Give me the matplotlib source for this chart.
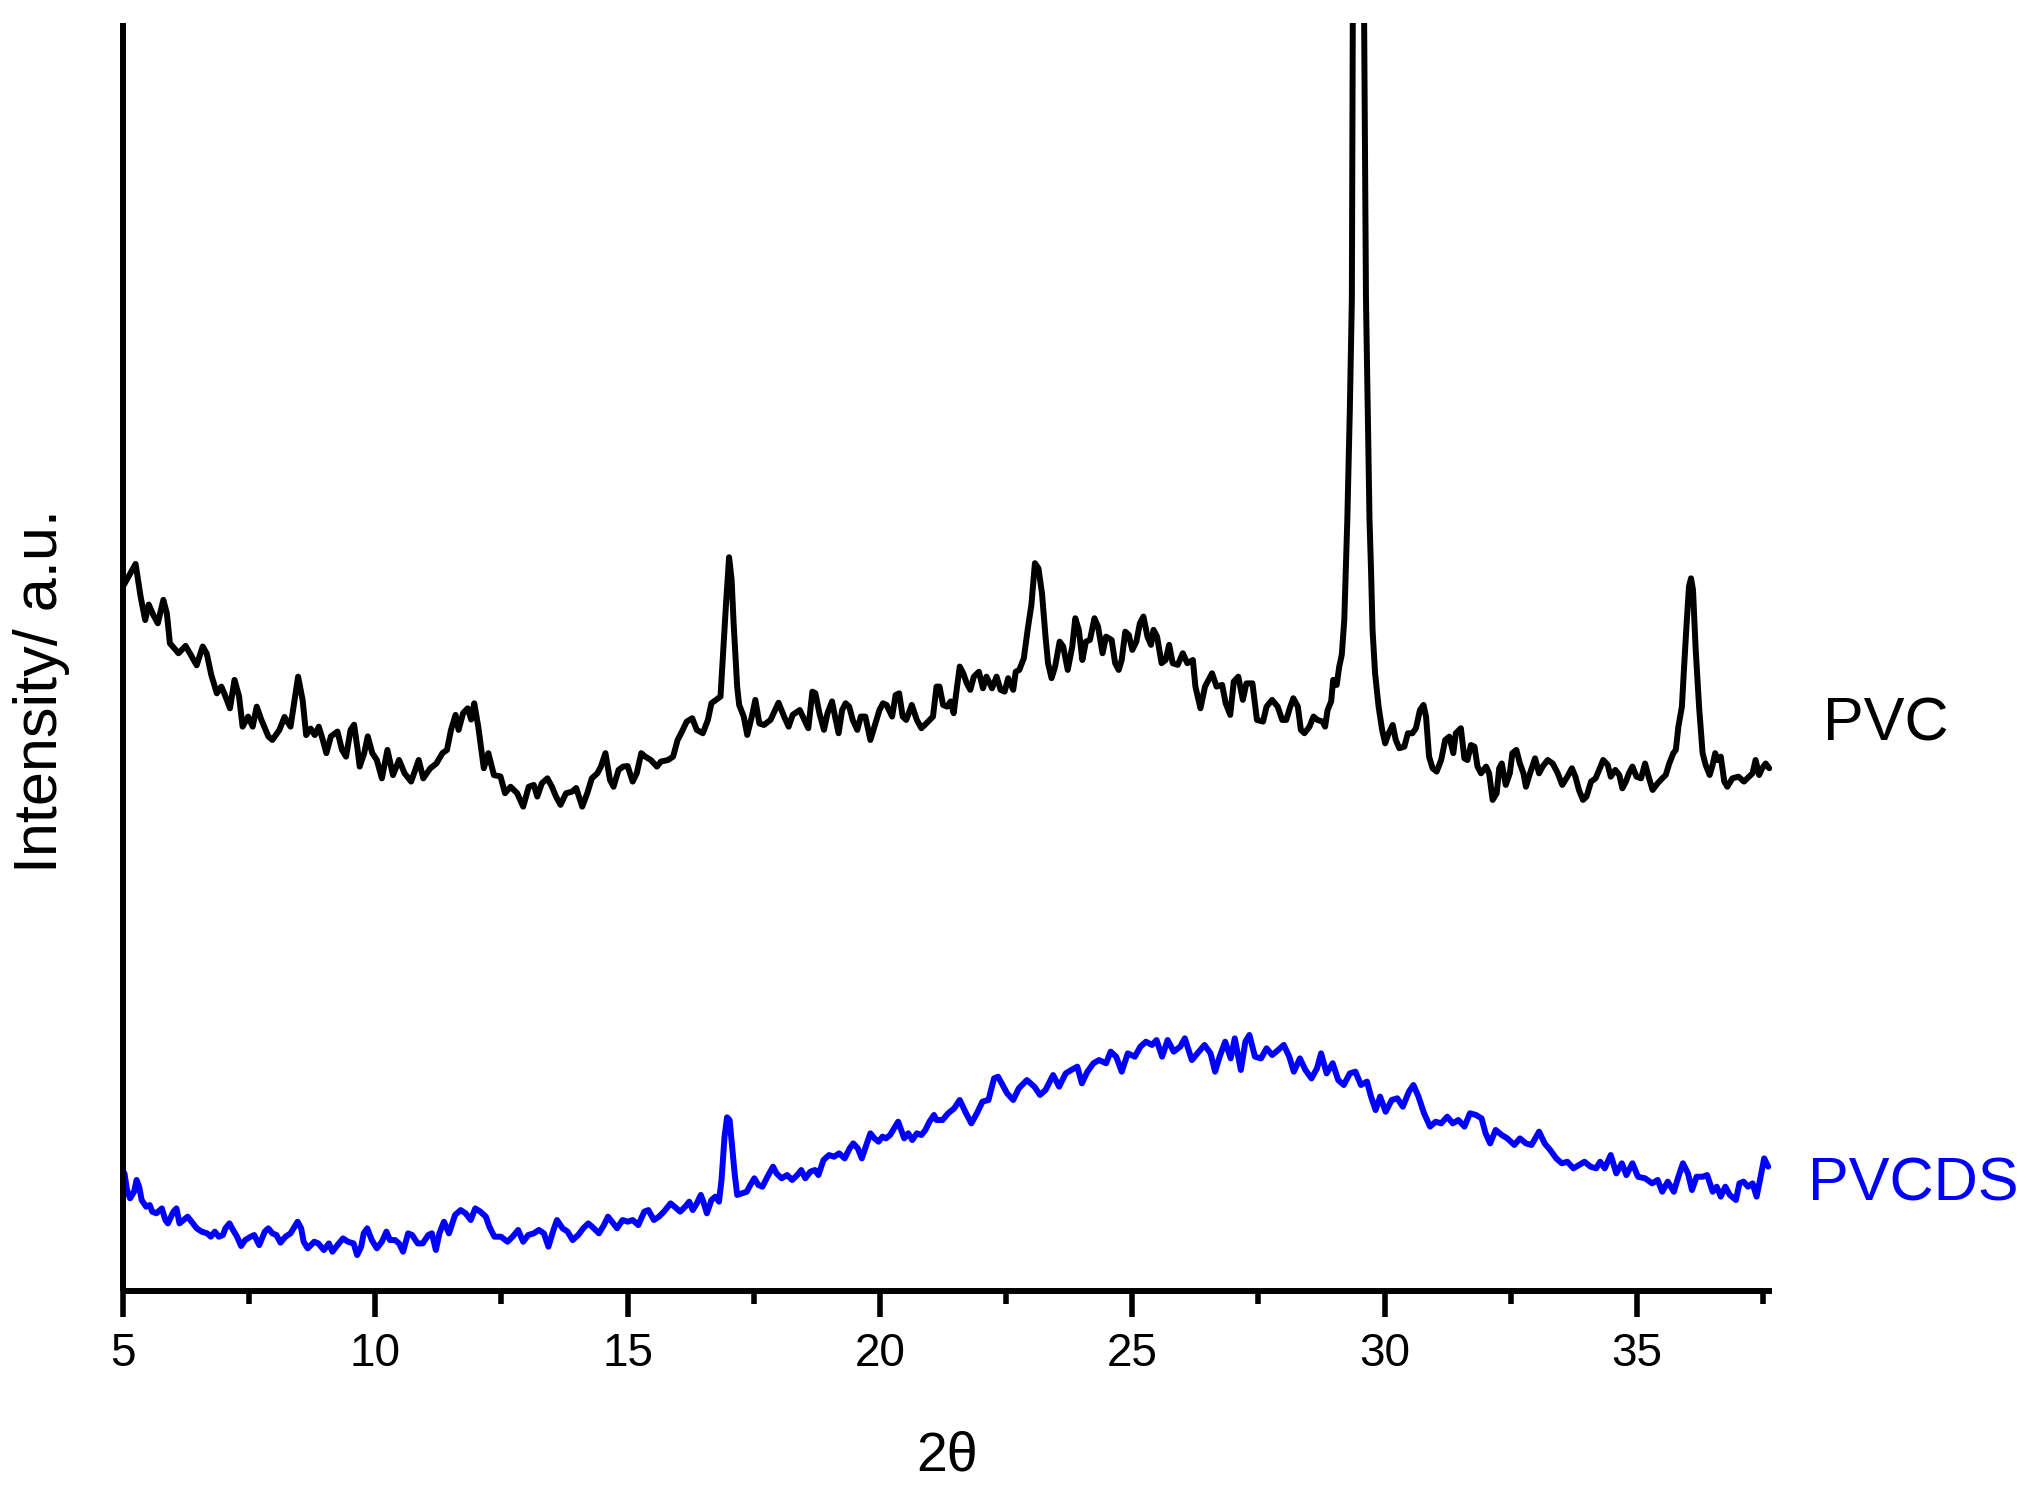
import matplotlib
matplotlib.use("Agg")
import matplotlib.pyplot as plt
from matplotlib.ticker import MultipleLocator

plt.rcParams['font.family'] = ['Liberation Sans', 'DejaVu Sans']

# ---------------- data (arbitrary units) ----------------
pvc_2theta = [
    5.0, 5.13, 5.25, 5.35, 5.44, 5.51, 5.6, 5.69, 5.8, 5.87, 5.93, 6.02, 6.1, 6.24, 6.33, 6.46,
    6.58, 6.66, 6.75, 6.86, 6.95, 7.02, 7.12, 7.21, 7.3, 7.37, 7.48, 7.57, 7.65, 7.74, 7.88, 7.96,
    8.1, 8.2, 8.32, 8.41, 8.47, 8.56, 8.63, 8.72, 8.8, 8.88, 8.96, 9.03, 9.12, 9.25, 9.34, 9.42,
    9.51, 9.58, 9.65, 9.69, 9.78, 9.85, 9.94, 10.03, 10.13, 10.24, 10.35, 10.47, 10.58, 10.71,
    10.86, 10.95, 11.09, 11.21, 11.33, 11.42, 11.5, 11.59, 11.65, 11.74, 11.83, 11.9, 11.96, 12.04,
    12.15, 12.24, 12.35, 12.48, 12.57, 12.68, 12.81, 12.93, 13.04, 13.14, 13.21, 13.3, 13.41, 13.5,
    13.58, 13.67, 13.78, 13.9, 13.98, 14.1, 14.2, 14.29, 14.4, 14.47, 14.56, 14.65, 14.72, 14.82,
    14.91, 15.0, 15.1, 15.18, 15.27, 15.35, 15.46, 15.58, 15.66, 15.8, 15.9, 15.99, 16.06, 16.17,
    16.28, 16.37, 16.49, 16.59, 16.66, 16.75, 16.84, 16.9, 16.95, 17.01, 17.06, 17.1, 17.17, 17.21,
    17.3, 17.37, 17.46, 17.53, 17.61, 17.7, 17.83, 17.99, 18.1, 18.19, 18.27, 18.41,
    18.58, 18.66, 18.72, 18.8, 18.89, 18.96, 19.05, 19.11, 19.18, 19.25, 19.32, 19.39, 19.46, 19.55,
    19.62, 19.71, 19.81, 19.91, 19.99, 20.06, 20.13, 20.24, 20.31, 20.38, 20.45, 20.52, 20.63, 20.73,
    20.82, 20.92, 21.05, 21.12, 21.18, 21.25, 21.33, 21.4, 21.46, 21.51, 21.58, 21.65, 21.72, 21.79,
    21.86, 21.96, 22.04, 22.11, 22.22, 22.31, 22.39, 22.47, 22.54, 22.64, 22.69, 22.76, 22.85, 22.93,
    23.0, 23.07, 23.14, 23.21, 23.28, 23.33, 23.4, 23.47, 23.56, 23.63, 23.72, 23.81, 23.87, 23.94,
    24.01, 24.08, 24.16, 24.25, 24.32, 24.41, 24.48, 24.59, 24.66, 24.73, 24.79, 24.86, 24.93, 25.0,
    25.08, 25.15, 25.22, 25.3, 25.37, 25.42, 25.49, 25.58, 25.66, 25.73, 25.8, 25.9, 26.0, 26.09,
    26.2, 26.25, 26.35, 26.44, 26.58, 26.67, 26.78, 26.85, 26.94, 27.01, 27.1, 27.19, 27.26, 27.38,
    27.47, 27.59, 27.66, 27.77, 27.88, 27.97, 28.05, 28.12, 28.19, 28.28, 28.34,
    28.41, 28.51, 28.59, 28.67, 28.77, 28.82, 28.87, 28.94, 28.98, 29.05, 29.1, 29.15, 29.2, 29.23,
    29.26, 29.31, 29.35, 29.37, 29.42, 29.48, 29.54, 29.59, 29.63, 29.7, 29.73, 29.76, 29.81, 29.88, 29.95, 30.01,
    30.08, 30.16, 30.22, 30.29, 30.39, 30.46, 30.55, 30.62, 30.7, 30.77, 30.82, 30.88, 30.95, 31.03,
    31.12, 31.2, 31.28, 31.36, 31.41, 31.51, 31.58, 31.64, 31.71, 31.78, 31.84, 31.91, 32.01, 32.07,
    32.14, 32.22, 32.27, 32.32, 32.4, 32.48, 32.53, 32.61, 32.68, 32.75, 32.8, 32.88, 32.98, 33.06,
    33.13, 33.23, 33.33, 33.43, 33.52, 33.62, 33.71, 33.78, 33.85, 33.93, 34.0, 34.09, 34.18, 34.25,
    34.33, 34.42, 34.48, 34.57, 34.65, 34.71, 34.78, 34.84, 34.91, 34.99, 35.08, 35.16, 35.23, 35.31,
    35.41, 35.5, 35.57, 35.64, 35.72, 35.77, 35.82, 35.89, 35.93, 35.98, 36.03, 36.07, 36.11, 36.16,
    36.23, 36.3, 36.36, 36.44, 36.49, 36.55, 36.59, 36.66, 36.73, 36.79, 36.89, 37.01, 37.12, 37.22,
    37.29, 37.35, 37.42, 37.48, 37.55, 37.62,
]
pvc_intensity = [
    543, 552, 560.4, 535, 517, 529, 521, 514.5, 532.6, 522, 499, 495, 491.3, 497, 491, 482,
    496.5, 491, 474.5, 460.3, 465.5, 459, 448.7, 470.7, 458, 434.5, 442.3, 434.5, 450, 440, 427, 424.2,
    432, 442, 434.5, 458, 473.2, 455, 428, 433, 428, 434.5, 424.2, 414, 427, 430.7, 416.5, 411.3,
    432, 436, 416.5, 403.6, 414, 427, 414, 408.7, 394.5, 416.5, 397, 408.7, 398.4, 392,
    408.7, 394.5, 402.3, 406, 414, 416.5, 432, 443.6, 432, 445, 448.7, 440, 452.6, 434.5,
    402.3, 414, 397, 396, 383, 388, 383, 372.6, 388, 389.4, 380.4, 390.7, 394.5, 388,
    380.4, 374, 383, 384.2, 387, 372.6, 383, 394.5, 398.4, 403.6, 414, 393.3, 388, 401,
    403.6, 404, 392, 398.4, 414, 411.3, 408.7, 403.6, 407.5, 408.7, 411.3, 424.2, 429.4, 438.4,
    441, 432, 429.4, 439.7, 452.6, 455.2, 457.8, 496.5, 530, 565.6, 548, 514.5, 465.5, 451.3,
    442.3, 428.1, 442.3, 455.2, 437, 435.8, 439.7, 453, 442.3, 434.5, 443.6, 447.4,
    433.3, 461.6, 460.3, 444.9, 432, 444.9, 454, 442.3, 429.4, 447.4, 452.6, 450, 439.7, 432,
    442.3, 442.3, 424.2, 437.1, 447.4, 452.6, 451.3, 442.3, 459, 460.3, 442.3, 439.7, 451.3, 439.7,
    433.3, 437.1, 442.3, 465.5, 465.5, 451.3, 450, 454, 444.9, 460.3, 481, 475.8, 468, 463,
    473.2, 477, 464.2, 473.2, 464.2, 473.2, 463, 461.6, 472, 463, 477, 478.4, 487.4, 510.6,
    528.7, 561, 557, 537.7, 504.2, 483.6, 472, 481, 500.3, 496.5, 478.4, 496.5, 518.4, 509.4,
    486.1, 500.3, 501.6, 518.4, 512, 491.3, 504.2, 501.6, 483.6, 478.4, 486.1, 508, 505.5, 493.9,
    500.3, 514.5, 519.7, 504.2, 497.8, 509.4, 504.2, 483.6, 486.1, 497.8, 483.6, 482.3, 491.3, 483.6,
    486.1, 465.5, 448.7, 465.5, 475.8, 465.5, 466.8, 452.6, 443.6, 469.4, 473.2, 455.2, 468, 468,
    439.7, 438.4, 450, 455.2, 450, 439.7, 439.7, 448.7, 456.5, 450, 432,
    429.4, 434.5, 442.3, 439.7, 438.4, 434.5, 447.4, 454, 470.7, 466.8, 481, 490, 517, 555.8,
    594.5, 680, 765, 1000, 1500, 1800, 1500, 1000, 765, 594.5, 555.8, 509.4, 475.8, 450, 432, 421.6,
    429.4, 435.8, 424.2, 417.8, 419, 429.4, 429.4, 433.3, 447.4, 451.3, 442.3, 411.3, 402.3, 399.7,
    408.7, 424.2, 426.8, 414, 429.4, 433.3, 410, 408.7, 420.3, 419, 403.6, 398.4, 403.6, 398.4,
    377.8, 383, 402.3, 406, 389.4, 398.4, 414, 416.5, 406, 398.4, 388, 398.4, 410, 398.4,
    403.6, 408.7, 406, 398.4, 389.4, 395.8, 402.3, 395.8, 385.5, 377.8, 380.4, 392, 394.5, 401,
    408.7, 404.9, 395.8, 401, 397.1, 386.8, 392, 398.4, 403.6, 395.8, 394.5, 406, 395.8, 385.5,
    390.7, 394.5, 397.1, 406, 414, 416.5, 434.5, 450, 478.4, 512, 542.9, 549.3, 540.3, 496.5,
    450, 414, 404.9, 397.1, 403.6, 414, 408.7, 411.3, 392, 388, 394.5, 395.8, 392, 395.8,
    398.4, 408.7, 397.1, 402.3, 406, 402.3,
]

pvcds_2theta = [
    5.03, 5.08, 5.14, 5.22, 5.27, 5.32, 5.37, 5.46, 5.53, 5.58, 5.66, 5.77, 5.84, 5.89, 6.0, 6.06,
    6.12, 6.2, 6.28, 6.36, 6.46, 6.56, 6.67, 6.74, 6.82, 6.9, 6.98, 7.03, 7.11, 7.18, 7.26, 7.34,
    7.42, 7.53, 7.6, 7.7, 7.81, 7.88, 7.96, 8.04, 8.12, 8.22, 8.32, 8.4, 8.46, 8.53, 8.58, 8.66,
    8.79, 8.87, 8.98, 9.08, 9.15, 9.25, 9.36, 9.46, 9.57, 9.64, 9.72, 9.77, 9.84, 9.93, 10.03, 10.13,
    10.22, 10.29, 10.39, 10.47, 10.55, 10.65, 10.73, 10.84, 10.94, 11.05, 11.12, 11.2, 11.27, 11.36,
    11.46, 11.58, 11.69, 11.79, 11.89, 11.98, 12.08, 12.19, 12.26, 12.36, 12.49, 12.62, 12.72, 12.83,
    12.93, 13.03, 13.14, 13.24, 13.34, 13.43, 13.53, 13.6, 13.71, 13.81, 13.91, 14.02, 14.12, 14.22,
    14.33, 14.43, 14.53, 14.61, 14.69, 14.79, 14.9, 15.0, 15.1, 15.21, 15.33, 15.41, 15.52, 15.62,
    15.72, 15.85, 15.93, 16.04, 16.14, 16.22, 16.29, 16.37, 16.45, 16.5, 16.57, 16.66, 16.74, 16.81,
    16.86, 16.92, 16.97, 17.02, 17.07, 17.12, 17.17, 17.26, 17.36, 17.43, 17.51, 17.59, 17.67, 17.77,
    17.88, 17.95, 18.05, 18.16, 18.26, 18.36, 18.44, 18.52, 18.62, 18.71, 18.78, 18.88, 18.99, 19.09,
    19.19, 19.3, 19.4, 19.47, 19.56, 19.64, 19.74, 19.81, 19.89, 19.97, 20.05, 20.12, 20.2, 20.28,
    20.36, 20.48, 20.56, 20.64, 20.73, 20.82, 20.9, 20.98, 21.07, 21.12, 21.24, 21.35, 21.47, 21.58,
    21.69, 21.81, 21.92, 22.03, 22.15, 22.26, 22.34, 22.43, 22.52, 22.64, 22.75, 22.91, 23.06, 23.17,
    23.28, 23.43, 23.55, 23.68, 23.79, 23.91, 24.0, 24.11, 24.23, 24.34, 24.48, 24.57, 24.68, 24.79,
    24.91, 25.05, 25.16, 25.27, 25.39, 25.48, 25.59, 25.7, 25.82, 25.95, 26.04, 26.18, 26.29, 26.43,
    26.55, 26.64, 26.73, 26.84, 26.95, 27.03, 27.15, 27.24, 27.32, 27.43, 27.55, 27.66, 27.77, 27.89,
    28.0, 28.11, 28.2, 28.32, 28.43, 28.55, 28.66, 28.74, 28.85, 28.97, 29.08, 29.19, 29.31, 29.42,
    29.53, 29.65, 29.73, 29.82, 29.91, 30.02, 30.14, 30.25, 30.36, 30.48, 30.57, 30.67, 30.78, 30.9,
    31.01, 31.12, 31.24, 31.35, 31.46, 31.58, 31.69, 31.81, 31.92, 32.0, 32.09, 32.2, 32.32, 32.43,
    32.57, 32.68, 32.8, 32.91, 33.06, 33.17, 33.28, 33.4, 33.51, 33.62, 33.74, 33.85, 33.96, 34.08,
    34.19, 34.27, 34.36, 34.48, 34.59, 34.7, 34.79, 34.91, 35.02, 35.16, 35.3, 35.41, 35.5, 35.61,
    35.73, 35.82, 35.91, 36.01, 36.09, 36.18, 36.3, 36.39, 36.5, 36.58, 36.66, 36.75, 36.84, 36.96,
    37.03, 37.11, 37.2, 37.29, 37.37, 37.45, 37.52, 37.6,
]
pvcds_intensity = [
    88.8, 76, 69.5, 74.6, 83.7, 78.5, 68.2, 63, 64.3, 59.2, 57.9, 61.7, 52.7, 50.1, 59.2, 61.7,
    50.1, 52.7, 55.3, 51.4, 46.3, 43.7, 42.4, 39.8, 43.7, 39.8, 41.1, 46.3, 50.1, 45, 39.8, 32.6,
    37.2, 39.8, 41.1, 33.3, 43.7, 46.3, 42.4, 41.1, 35.2, 39.8, 42.4, 47.5, 51.4, 46.3, 35.9, 30.8,
    35.9, 34.6, 29.5, 34.6, 28.2, 33.3, 38.5, 35.9, 34.6, 25.6, 32.1, 42.4, 46.3, 37.2, 30.8, 35.9,
    43.7, 37.2, 37.2, 34.6, 28.2, 42.4, 41.1, 34.6, 34.6, 41.1, 42.4, 29.5, 42.4, 51.4,
    42.4, 56.6, 60.4, 57.9, 52.7, 61.7, 59.2, 55.3, 47.5, 39.8, 39.8, 35.9, 39.8, 45,
    35.9, 41.1, 42.4, 45, 42.4, 32.1, 45, 52.7, 46.3, 43.7, 37.2, 41.1, 46.3, 50.1,
    46.3, 42.4, 48.8, 55.3, 51.4, 46.3, 52.7, 51.4, 52.7, 48.8, 59.2, 60.4, 52.7, 55.3,
    59.2, 65.6, 63, 59.2, 63, 66.9, 60.4, 65.6, 72.1, 66.9, 57.9, 68.2, 70.8, 66.9,
    83.7, 117.2, 132.2, 130.1, 109.5, 88.8, 72.1, 73.3, 74.6, 79.8, 85, 79.8, 78.5, 86.2,
    94, 88.8, 85, 87.5, 83.7, 87.5, 91.4, 85, 90.1, 91.4, 87.5, 99.1, 103, 101.7,
    104.3, 100.4, 108.2, 112, 108.2, 100.4, 112, 119.8, 115.9, 113.3, 117.2, 115.9, 118.5, 123.6,
    128.8, 115.9, 119.8, 114.6, 119.8, 118.5, 122.4, 128.8, 134, 130.1, 130.1, 135.3, 139.1, 145.6,
    136.5, 127.5, 135.3, 144.3, 145.6, 162.3, 163.6, 157.2, 150.7, 145.6, 154.6, 161, 155.9, 149.5,
    153.3, 164.9, 155.9, 166.2, 168.8, 171.4, 158.5, 167.5, 174, 176.5, 174, 183, 179.1, 167.5,
    181.7, 179.1, 186.9, 190.7, 188.2, 192, 179.1, 192, 183, 186.9, 193.3, 176.5, 181.7, 188.2,
    181.7, 167.5, 179.1, 190.7, 177.8, 193.3, 168.8, 190.7, 195.9, 179.1, 177.8, 185.6, 180.4, 184.3,
    188.2, 179.1, 167.5, 177.8, 168.8, 162.3, 170.1, 181.7, 166.2, 174, 161, 157.2, 166.2, 167.5,
    157.2, 159.8, 148.2, 137.8, 148.2, 136.5, 145.6, 146.9, 140.4, 152, 157.2, 148.2, 135.3, 125,
    128.8, 127.5, 132.7, 127.5, 130.1, 125, 135.3, 134, 131.4, 119.8, 112, 122.4, 118.5, 115.9,
    110.8, 115.9, 112, 110.8, 121.1, 112, 106.9, 100.4, 96.6, 97.8, 92.7, 95.3, 97.8, 94,
    92.7, 97.8, 92.7, 103, 88.8, 96.6, 87.5, 96.6, 86.2, 85, 81.1, 83.7, 74.6, 82.4,
    74.6, 86.2, 96.6, 88.8, 75.9, 86.2, 86.2, 87.5, 74.6, 78.5, 70.8, 78.5, 72.1, 68.2,
    81.1, 82.4, 78.5, 81.1, 70.8, 86.2, 100.4, 94,
]

x_major_ticks = [5, 10, 15, 20, 25, 30, 35]
x_label = "2\u03b8"
y_label = "Intensity/ a.u."
series_labels = ["PVC", "PVCDS"]

# ---------------- figure ----------------
fig = plt.figure(figsize=(20.26, 14.87), dpi=100)
ax = fig.add_axes([0.0607, 0.132, 0.8138, 0.8525])

line_kw = dict(lw=4.3, solid_joinstyle="round", solid_capstyle="round")
ax.plot(pvc_2theta, pvc_intensity, color="black", **line_kw)
ax.plot(pvcds_2theta, pvcds_intensity, color="#0000ff", **line_kw)

ax.set_xlim(5, 37.67)
ax.set_ylim(-2, 979)
ax.set_xticks(x_major_ticks)
ax.xaxis.set_minor_locator(MultipleLocator(2.5))
ax.set_yticks([])

for side in ["top", "right"]:
    ax.spines[side].set_visible(False)
for side in ["left", "bottom"]:
    ax.spines[side].set_linewidth(4.3)
    ax.spines[side].set_capstyle("butt")

ax.tick_params(axis="x", which="major", direction="out", length=19, width=4.0,
               labelsize=33, pad=11)
ax.tick_params(axis="x", which="minor", direction="out", length=9.5, width=4.0)

fig.text(0.4674, 0.0108, x_label, fontsize=40, ha="center", va="baseline")
fig.text(0.0207, 0.5353, y_label, fontsize=44, rotation=90, ha="center", va="center")
fig.text(0.8998, 0.5017, series_labels[0], fontsize=44, color="black", ha="left", va="baseline")
fig.text(0.8924, 0.193, series_labels[1], fontsize=44, color="#0000ff", ha="left", va="baseline")

fig.savefig("out.png", dpi=100)
